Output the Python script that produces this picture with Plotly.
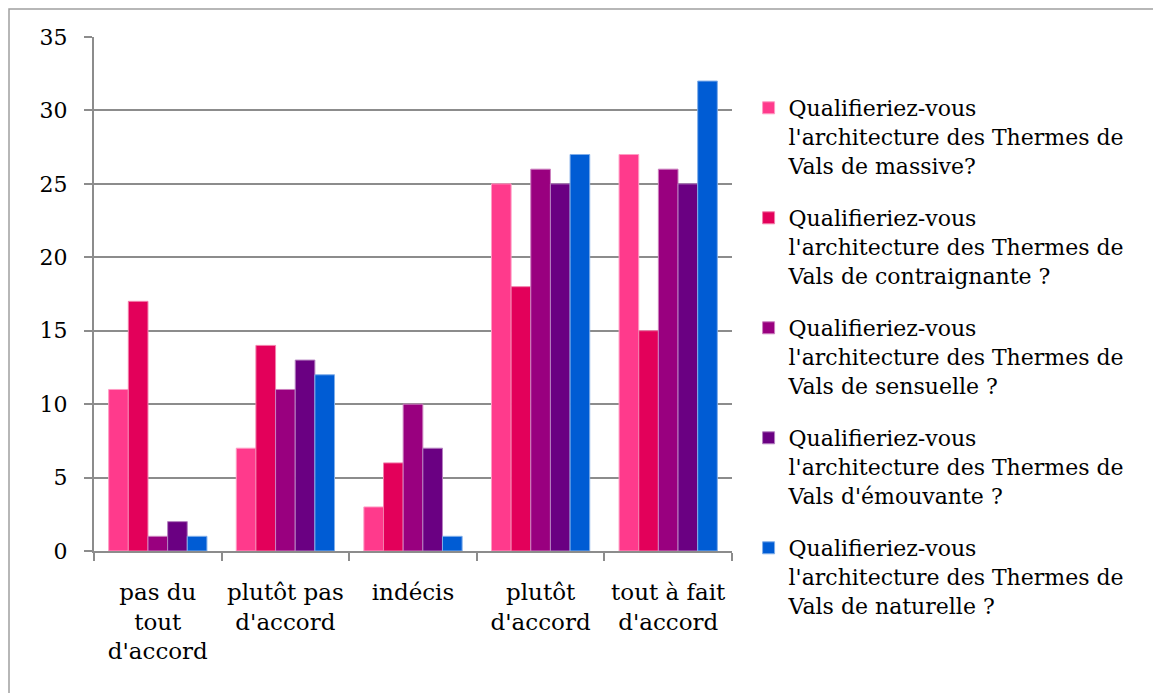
import plotly.graph_objects as go

categories = ["pas du<br>tout<br>d'accord", "plutôt pas<br>d'accord", "indécis",
              "plutôt<br>d'accord", "tout à fait<br>d'accord"]

series_names = [
    "Qualifieriez-vous<br>l'architecture des Thermes de<br>Vals de massive?",
    "Qualifieriez-vous<br>l'architecture des Thermes de<br>Vals de contraignante ?",
    "Qualifieriez-vous<br>l'architecture des Thermes de<br>Vals de sensuelle ?",
    "Qualifieriez-vous<br>l'architecture des Thermes de<br>Vals d'émouvante ?",
    "Qualifieriez-vous<br>l'architecture des Thermes de<br>Vals de naturelle ?",
]

massive = [11, 7, 3, 25, 27]
contraignante = [17, 14, 6, 18, 15]
sensuelle = [1, 11, 10, 26, 26]
emouvante = [2, 13, 7, 25, 25]
naturelle = [1, 12, 1, 27, 32]

colors = ["#ff3a8c", "#e3005a", "#99007f", "#6a0082", "#005cd4"]
outlines = ["#ff9cc4", "#f280ac", "#cc80bf", "#b580c0", "#80aee9"]

font_family = "DejaVu Serif"
grey = "#8c8c8c"
legend_names = ["legend", "legend2", "legend3", "legend4", "legend5"]

fig = go.Figure()
for i, vals in enumerate([massive, contraignante, sensuelle, emouvante, naturelle]):
    fig.add_trace(go.Bar(x=categories, y=vals, name=series_names[i],
                         legend=legend_names[i], showlegend=True,
                         marker=dict(color=colors[i], line=dict(color=outlines[i], width=1))))

# one legend per series so each entry can be spaced like the original
legends = {}
for i, name in enumerate(legend_names):
    top_px = 50 + 110 * i  # px below the top of the plot area
    legends[name] = dict(x=1.026, y=1 - top_px / 514, xanchor="left", yanchor="top",
                         valign="top", itemwidth=30,
                         font=dict(family=font_family, size=22, color="black"))

# the page has an 8px body margin, so margins are shifted by 8px
fig.update_layout(
    width=1161, height=693, showlegend=True,
    barmode="group", bargap=0.23, bargroupgap=0,
    plot_bgcolor="white", paper_bgcolor="white",
    margin=dict(l=86, r=437, t=29, b=150),
    font=dict(family=font_family, size=22, color="black"),
    xaxis=dict(showline=True, linecolor=grey, linewidth=2,
               ticks="outside", tickson="boundaries", ticklen=8,
               tickcolor=grey, tickwidth=2, ticklabelstandoff=19,
               tickfont=dict(family=font_family, size=23)),
    yaxis=dict(range=[0, 35], dtick=5, showline=True, linecolor=grey,
               linewidth=2, ticks="outside", ticklen=8, tickcolor=grey,
               tickwidth=2, showgrid=True, gridcolor=grey, gridwidth=2,
               zeroline=False, ticklabelstandoff=12,
               tickfont=dict(family=font_family, size=22)),
    shapes=[dict(type="rect", xref="paper", yref="paper",
                 x0=-85 / 638, x1=2.0, y0=-0.5, y1=1.0 + 28 / 514,
                 line=dict(color="#a0a0a0", width=1.5), layer="below")],
    **legends,
)

fig.write_html("out.html")
